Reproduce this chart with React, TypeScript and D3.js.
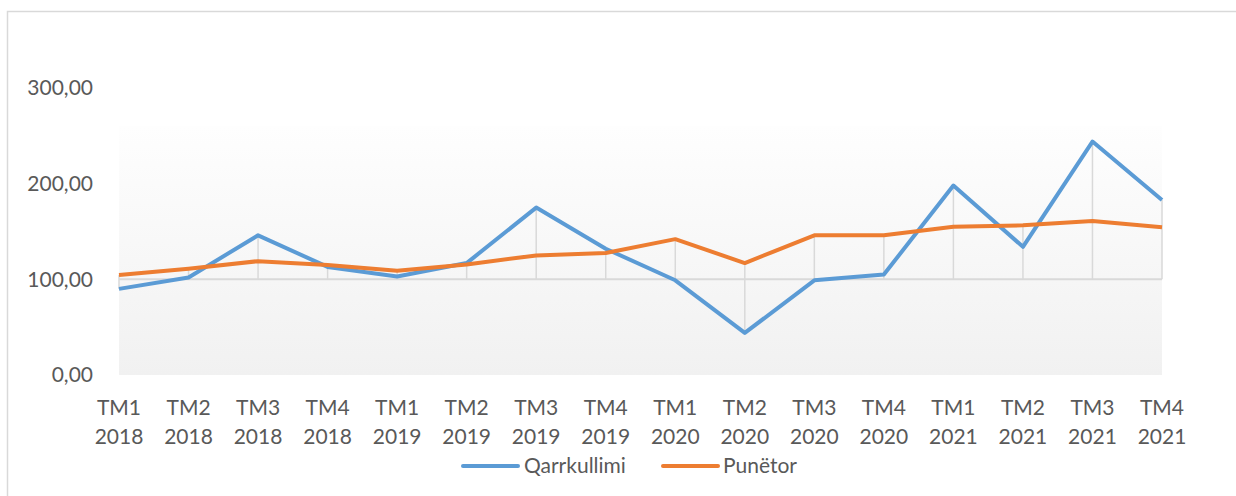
import React from 'react';
import * as d3 from 'd3';

const quarters = ['TM1', 'TM2', 'TM3', 'TM4', 'TM1', 'TM2', 'TM3', 'TM4', 'TM1', 'TM2', 'TM3', 'TM4', 'TM1', 'TM2', 'TM3', 'TM4'];
const years = ['2018', '2018', '2018', '2018', '2019', '2019', '2019', '2019', '2020', '2020', '2020', '2020', '2021', '2021', '2021', '2021'];
const qarrkullimi = [90, 102, 146, 113, 103, 117, 175, 132, 99, 44, 99, 105, 198, 134, 244, 183];
const punetor = [104.5, 111, 119, 115, 109, 115.5, 125, 127.5, 142, 117, 146, 146, 155, 156.5, 161, 154.5];
const yTicks = [0, 100, 200, 300];
const axisCross = 100;

const W = 1236;
const H = 496;
const font = 'Lato, "Open Sans", sans-serif';
const textColor = '#595959';

const series = [
    {name: 'Qarrkullimi', values: qarrkullimi, color: '#5b9bd5'},
    {name: 'Punëtor', values: punetor, color: '#ed7d31'},
];

const App = () => {
    const idx = quarters.map((_, i) => i);
    const x = d3.scalePoint<number>().domain(idx).range([119, 1162]);
    const y = d3.scaleLinear().domain([0, 300]).range([375, 88]);
    const line = d3.line<number>().x((_, i) => x(i)!).y(d => y(d));
    const fmt = (v: number) => d3.format('.2f')(v).replace('.', ',');

    return (
        <svg width={W} height={H} style={{position: 'absolute', left: 0, top: 0, background: '#fff'}}>
            <defs>
                <linearGradient id="bg" x1="0" y1="0" x2="0" y2="1">
                    <stop offset="0" stopColor="#fefefe"/>
                    <stop offset="1" stopColor="#f1f1f1"/>
                </linearGradient>
            </defs>
            <rect x={7.5} y={11.5} width={W + 20} height={H + 20} fill="#fff" stroke="#d9d9d9" strokeWidth={1.5}/>
            <rect x={x(0)} y={126} width={x(idx.length - 1)! - x(0)!} height={y(0) - 126} fill="url(#bg)"/>

            {yTicks.map(t => (
                <text key={t} x={93} y={y(t)} dy="0.35em" textAnchor="end" fontFamily={font} fontSize={21} fill={textColor}>
                    {fmt(t)}
                </text>
            ))}

            <line x1={x(0)} x2={x(idx.length - 1)} y1={y(axisCross)} y2={y(axisCross)} stroke="#d9d9d9" strokeWidth={2}/>
            {idx.map(i => {
                const vs = series.map(s => s.values[i]);
                return (
                    <line key={i} x1={x(i)} x2={x(i)} y1={y(Math.min(axisCross, ...vs))} y2={y(Math.max(axisCross, ...vs))}
                          stroke="#d9d9d9" strokeWidth={1.5}/>
                );
            })}

            {series.map(s => (
                <path key={s.name} d={line(s.values)!} fill="none" stroke={s.color} strokeWidth={4} strokeLinejoin="round"/>
            ))}

            {idx.map(i => (
                <g key={i} fontFamily={font} fontSize={21} fill={textColor} textAnchor="middle">
                    <text x={x(i)} y={415}>{quarters[i]}</text>
                    <text x={x(i)} y={444}>{years[i]}</text>
                </g>
            ))}

            <g fontFamily={font} fontSize={21} fill={textColor}>
                <line x1={463} x2={518} y1={466} y2={466} stroke={series[0].color} strokeWidth={4} strokeLinecap="round"/>
                <text x={524} y={473}>{series[0].name}</text>
                <line x1={663} x2={718} y1={466} y2={466} stroke={series[1].color} strokeWidth={4} strokeLinecap="round"/>
                <text x={723} y={473}>{series[1].name}</text>
            </g>
        </svg>
    );
};

export default App;
